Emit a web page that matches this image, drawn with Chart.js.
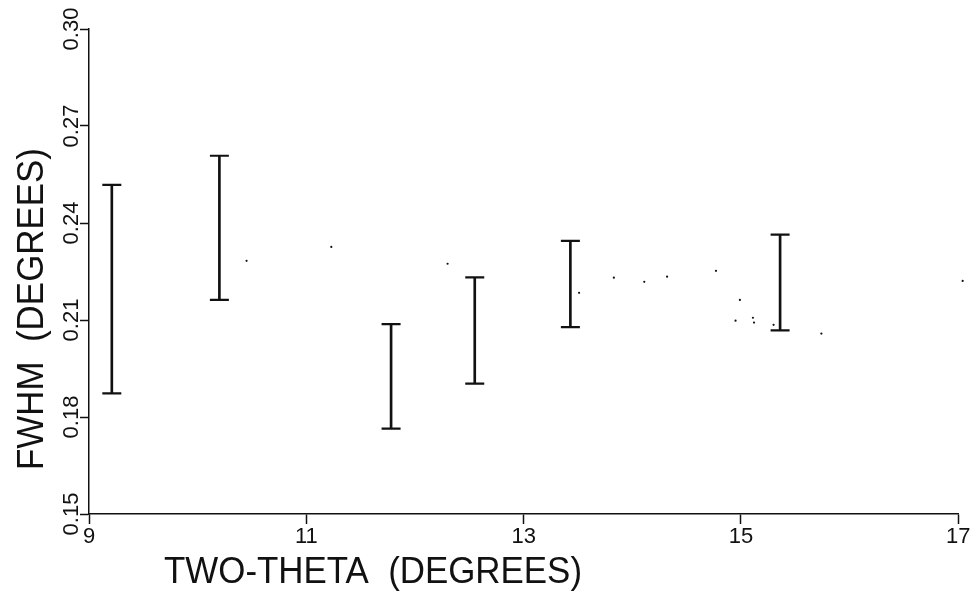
<!DOCTYPE html>
<html>
<head>
<meta charset="utf-8">
<script src="https://cdn.jsdelivr.net/npm/chart.js@4.4.1/dist/chart.umd.min.js"></script>
<style>
  html,body{margin:0;padding:0;background:#fff;}
  #wrap{width:970px;height:591px;position:relative;}
</style>
</head>
<body>
<div id="wrap"><canvas id="fwhm-chart"></canvas></div>
<script>
/* FWHM vs two-theta, error bars + scattered points */

var xTicks = [9, 11, 13, 15, 17];
var yTicks = [0.15, 0.18, 0.21, 0.24, 0.27, 0.30];

// error bar positions and limits
var barX    = [9.21, 10.20, 11.78, 12.55, 13.43, 15.36];
var barLow  = [0.1873, 0.2162, 0.1764, 0.1903, 0.2078, 0.2068];
var barHigh = [0.2518, 0.2608, 0.2087, 0.2232, 0.2345, 0.2364];

// isolated dots
var dotX = [10.45, 11.23, 12.30, 13.51, 13.83, 14.11, 14.32, 14.77, 14.99, 14.95, 15.11, 15.12, 15.30, 15.74, 17.04];
var dotY = [0.2283, 0.2326, 0.2274, 0.2184, 0.2231, 0.2218, 0.2234, 0.2252, 0.2162, 0.2098, 0.2107, 0.2092, 0.2085, 0.2058, 0.2221];

var xTitle = 'TWO-THETA  (DEGREES)';
var yTitle = 'FWHM  (DEGREES)';

var INK = '#111';
var TICK_FONT = {family:'"Liberation Sans", Arial, sans-serif', size:22};

var axisTitles = {
  id:'axisTitles',
  afterDraw:function(chart){
    var ctx = chart.ctx;
    ctx.save();
    ctx.fillStyle = INK;
    ctx.font = '37px "Liberation Sans", Arial, sans-serif';
    ctx.textBaseline = 'alphabetic';
    ctx.textAlign = 'left';
    ctx.fillText(xTitle, 164, 583, 418);
    ctx.translate(43, 309);
    ctx.rotate(-Math.PI/2);
    ctx.textAlign = 'center';
    ctx.fillText(yTitle, 0, 0, 322);
    ctx.restore();
  }
};

function pinTicks(values){
  return function(scale){
    scale.ticks = values.map(function(v){return {value:v};});
  };
}

function noPad(w, h){
  return function(scale){
    scale.paddingLeft = 0; scale.paddingRight = 0;
    scale.paddingTop = 0; scale.paddingBottom = 0;
    if(w) scale.width = w;
    if(h) scale.height = h;
  };
}

new Chart(document.getElementById('fwhm-chart'), {
  type:'scatter',
  data:{
    datasets:[
      {
        type:'bar',
        data:barX.map(function(x,i){return {x:x, y:[barLow[i], barHigh[i]]};}),
        backgroundColor:INK,
        borderWidth:0,
        barThickness:2
      },
      {
        data:barX.map(function(x,i){return {x:x, y:barLow[i]};})
          .concat(barX.map(function(x,i){return {x:x, y:barHigh[i]};})),
        pointStyle:'line',
        pointRadius:9.5,
        borderColor:INK,
        borderWidth:2.2
      },
      {
        data:dotX.map(function(x,i){return {x:x, y:dotY[i]};}),
        pointRadius:1.1,
        pointHoverRadius:7,
        pointBorderWidth:0,
        backgroundColor:INK,
        clip:false
      }
    ]
  },
  options:{
    responsive:true,
    maintainAspectRatio:false,
    animation:false,
    events:[],
    layout:{padding:{top:29, right:8, left:0, bottom:0}},
    plugins:{legend:{display:false}, tooltip:{enabled:false}},
    scales:{
      x:{
        type:'linear',
        min:9, max:17,
        offset:false,
        afterBuildTicks:pinTicks(xTicks),
        afterFit:noPad(0, 77),
        border:{display:true, color:INK, width:1.5},
        grid:{offset:false, drawOnChartArea:false, drawTicks:true, tickLength:10, tickColor:INK, tickWidth:1.5},
        ticks:{color:INK, font:TICK_FONT, padding:0, maxRotation:0, autoSkip:false}
      },
      y:{
        type:'linear',
        min:0.15, max:0.30,
        afterBuildTicks:pinTicks(yTicks),
        afterFit:noPad(89, 0),
        border:{display:true, color:INK, width:1.5},
        grid:{offset:false, drawOnChartArea:false, drawTicks:true, tickLength:9, tickColor:INK, tickWidth:1.5},
        ticks:{
          color:INK, font:TICK_FONT,
          minRotation:90, maxRotation:90,
          crossAlign:'center', padding:-13,
          callback:function(v){return v.toFixed(2);}
        }
      }
    }
  },
  plugins:[axisTitles]
});
</script>
</body>
</html>
